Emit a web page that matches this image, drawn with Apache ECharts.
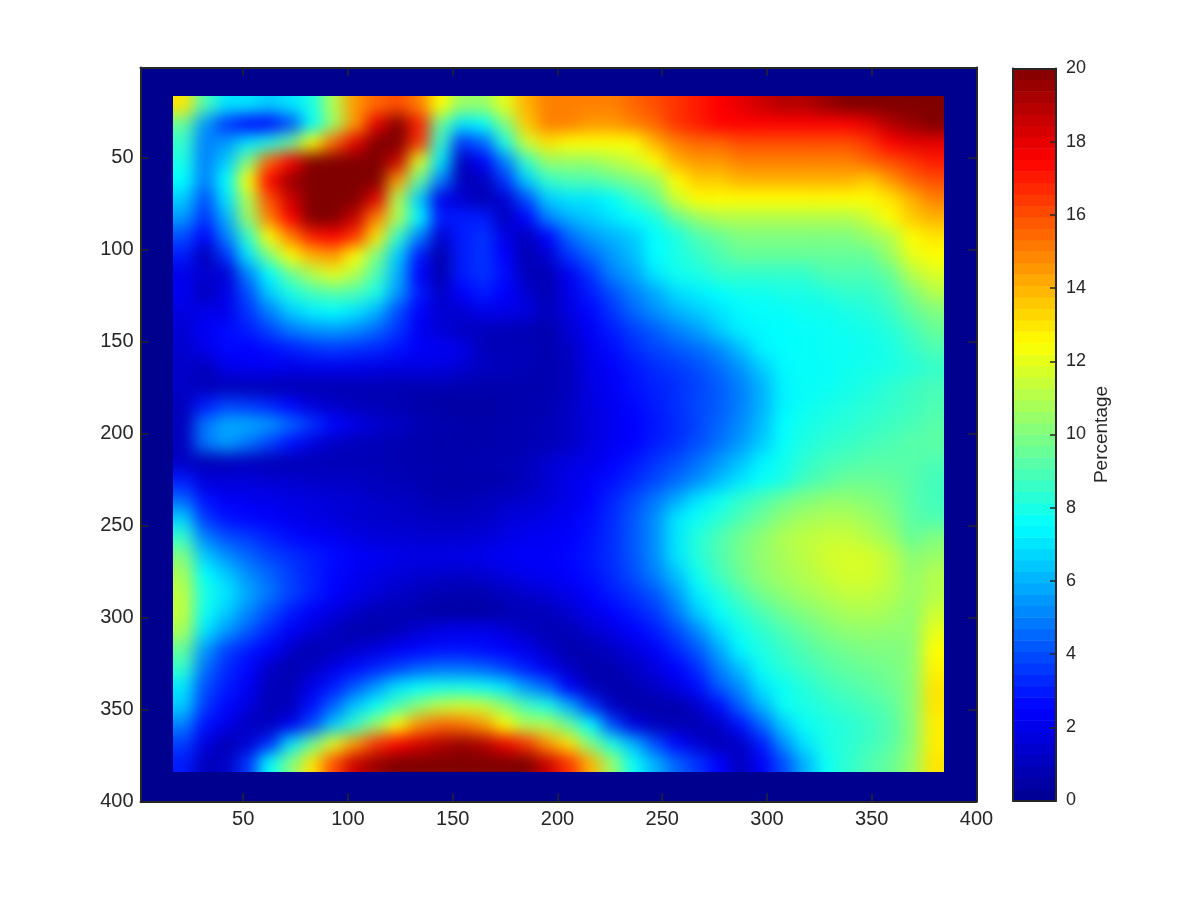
<!DOCTYPE html>
<html>
<head>
<meta charset="utf-8">
<style>
html,body{margin:0;padding:0;background:#fff}
#chart{width:1200px;height:900px}
/* Smooth the measured cells on the main heatmap's own layer, and clip that layer to the data square. */
canvas[data-zr-dom-id="zr_1"]{filter:blur(8px);clip-path:inset(96px 256px 128px 173px)}
</style>
<script src="https://cdn.jsdelivr.net/npm/echarts@6/dist/echarts.min.js"></script>
</head>
<body>
<div id="chart"></div>
<script>
const xCells = [20,30,40,50,60,70,80,90,100,110,120,130,140,150,160,170,180,190,200,210,220,230,240,250,260,270,280,290,300,310,320,330,340,350,360,370];
const yCells = [20,30,40,50,60,70,80,90,100,110,120,130,140,150,160,170,180,190,200,210,220,230,240,250,260,270,280,290,300,310,320,330,340,350,360,370];
const axisTicks = [50,100,150,200,250,300,350,400];
const colorbarTicks = [0,2,4,6,8,10,12,14,16,18,20];
const colorbarLevels = [0.16,0.47,0.78,1.09,1.41,1.72,2.03,2.34,2.66,2.97,3.28,3.59,3.91,4.22,4.53,4.84,5.16,5.47,5.78,6.09,6.41,6.72,7.03,7.34,7.66,7.97,8.28,8.59,8.91,9.22,9.53,9.84,10.16,10.47,10.78,11.09,11.41,11.72,12.03,12.34,12.66,12.97,13.28,13.59,13.91,14.22,14.53,14.84,15.16,15.47,15.78,16.09,16.41,16.72,17.03,17.34,17.66,17.97,18.28,18.59,18.91,19.22,19.53,19.84];
const jetStops = ['#00008f','#0000ff','#0080ff','#00ffff','#80ff80','#ffff00','#ff8000','#ff0000','#800000'];
const percentage = [
[13,9,7,7,6.5,7,8,11,14.5,15.5,16,15,12.5,10.5,10.5,12,14,15,15,15,15,15.5,16,16.5,17,17.5,18,18.5,19,19,19.5,20,20,20,20,20],
[9.5,5.5,3.5,2.5,2.5,4,7.5,10.5,14.5,18,20,17,9.5,7,7.5,10,13.5,15,15,14.5,14.5,15,15.5,16.5,17,17.5,17.5,17.5,17.5,17.5,17.5,17.5,18,19,19.5,20],
[8.5,5,5.5,7,8,9.5,12.5,15.5,18,20,20,16.5,8.5,3.5,4.5,8,11.5,13,12.5,12.5,12.5,12.5,14,15,15.5,15.5,16,16,16,16,16,16,16.5,17.5,18,18],
[8,5,6.5,10,15.5,17.5,20,20,20,20,18.5,12,7,1,2.5,5,8.5,10.5,10.5,10.5,11,11.5,12.5,14,14.5,14.5,15,15,15,15,15,15,15.5,16,16.5,17],
[7.5,5,7.5,12.5,17.5,19.5,20,20,20,20,14.5,9.5,5,1,1,3.5,6.5,8.5,9,9,9.5,10,10.5,12.5,13.5,13.5,14,14,14,14,14,14,13.5,14.5,15.5,16],
[6.5,4,7,11,16,18.5,20,20,20,18,11,6.5,2,1.5,0.8,1.5,4,6.5,7,7,7.5,8.5,9.5,11.5,12.5,12.5,12.5,12.5,12.5,12.5,12.5,12.5,12.5,13,14,15],
[5.5,3.5,6,10.5,15,17.5,20,20,18.5,15,11,7.5,3,3,3,1,2.5,5,6,6.5,7,7.5,8,9.5,10.5,11,11,11,11,11,11,11,11.5,12.5,13.5,14],
[4,2.5,5,8.5,12.5,15,17,17.5,16.5,13,8.5,5,1.5,3,3.5,2,1,2.5,4.5,5.5,6,6.5,7.5,8,9,9.5,10,10,10,10,10,10,10.5,11,12.5,13],
[3,0.8,3.5,7,10,12.5,14,14.5,12.5,10,6.5,3,0.6,3,3.5,2.5,0.8,1.5,3.5,4.5,5.5,6.2,7.5,8,8.5,9,9.5,9.5,9.5,9.5,9.5,9.5,9.5,10.5,12,12.5],
[2,1.5,1.5,5,7.5,9.5,11,12,11,9,6,2.5,0.7,3,3.5,2.7,1,0.8,2.2,3.5,5,5.7,7,7.8,8,8.5,8.5,8.5,8.5,8.5,9,9,9,9.5,11,11.8],
[2.2,1,2,4,6.5,8,8.8,9.2,9,8,5.5,3,1.2,2.5,3,2.5,1.5,0.8,2,3,4,5,5.8,6.8,7.2,7.5,7.8,7.8,8,8,8.2,8.5,8.5,9,10,11],
[1.8,2,2,3.5,5,6.5,7.2,7.5,7,6,4,2.5,1.5,1.5,2,2,1.8,1,1.8,2.6,3.5,4.5,5.3,6,6.5,7,7.4,7.6,7.6,7.8,7.8,8,8.2,8.6,9.4,10],
[1.5,2.3,2.7,3,3.8,4.8,5.3,5.5,5.2,4.5,3.5,2.2,1.6,1.2,1,0.9,0.8,0.7,1.5,2.3,3,3.7,4.3,5,5.6,6.5,7.2,7.4,7.5,7.6,7.7,7.8,7.9,8.2,8.8,9.5],
[1.4,2,2.6,2.5,2.7,3,3.4,3.6,3.4,3.2,2.8,2.4,2.2,2,1,0.9,1,0.7,1.2,2.1,2.7,3.3,3.8,4.2,4.6,5.2,6.2,7.3,7.5,7.6,7.7,7.7,7.8,8,8.5,9],
[1.3,1,2,2.2,2.2,2,2,2.1,2,1.9,1.8,1.8,1.8,1.5,1.1,1,0.9,0.7,1,2,2.4,2.9,3.3,3.6,4,4.6,5.4,6.5,7.4,7.6,7.6,7.8,7.9,8,8.2,8.5],
[1.3,0.9,0.9,0.8,0.8,0.8,0.8,0.8,0.8,0.8,0.8,0.8,0.8,0.7,0.7,0.7,0.7,0.7,1,1.8,2.3,2.8,3.1,3.4,3.8,4.3,5,6,7.3,7.6,7.7,7.9,8.1,8.4,8.7,8.9],
[1,3,3.8,3.6,3.2,2.6,1.7,1.3,1,0.9,0.8,0.6,0.5,0.5,0.5,0.6,0.7,0.8,1.2,1.8,2.2,2.6,3,3.4,3.9,4.3,5,6,7.3,7.7,7.9,8.1,8.3,8.5,8.7,9],
[1,4.8,5.8,5.8,5.5,4.5,3.5,2.6,2,1.5,1.2,0.9,0.7,0.6,0.6,0.7,0.8,0.9,1.2,1.7,2.2,2.5,2.9,3.3,3.8,4.5,5.2,6.2,7.5,7.9,8.1,8.3,8.5,8.7,8.9,9.2],
[1,4.8,5.6,4.8,3.8,2.8,1.8,1.2,1,0.9,0.8,0.7,0.6,0.6,0.6,0.7,0.8,0.9,1.2,1.8,2.2,2.5,3,3.4,4,4.7,5.5,6.5,7.6,8.1,8.4,8.6,8.8,9,9.2,9.3],
[1.2,0.8,1,1,0.9,0.9,0.9,0.9,0.9,0.9,0.8,0.7,0.7,0.7,0.8,0.9,1,1.5,1.8,2,2.5,2.9,3.5,4,4.7,5.5,6.3,7.3,7.8,8.4,8.8,9,9.2,9.2,9.2,9],
[3,1.7,1.6,1.6,1.5,1.4,1.3,1.2,1.2,1,0.9,0.8,0.6,0.6,0.6,0.7,1,1.5,2,2.3,2.8,3.3,3.9,4.6,5.3,6.2,7,7.6,8,8.8,9.2,9.6,9.6,9.5,9.2,8.8],
[4.5,2.8,2.3,2.2,2.1,1.9,1.8,1.6,1.5,1.3,1.2,1,0.8,0.8,1,1.2,1.4,1.6,2,2.5,3.2,3.9,4.8,5.8,7,7.7,8.4,9,9.6,10,10.3,10.3,10.1,9.8,9.2,8.8],
[6.5,3.6,2.8,2.6,2.4,2.1,1.9,1.7,1.5,1.4,1.3,1.2,1.1,1.1,1.2,1.6,1.8,2,2.3,2.7,3.3,4.2,5.3,7,7.7,8.3,9,9.6,10.3,10.7,10.9,10.9,10.6,10.1,9.3,9],
[8.5,5,4,3.6,3.1,2.7,2.4,2.2,1.9,1.7,1.6,1.5,1.5,1.5,1.6,1.9,2.2,2.3,2.5,2.8,3.4,4.2,5.3,7,8.2,9,9.7,10.3,10.9,11.2,11.4,11.4,11,10.5,9.5,10],
[10,6.5,5.3,4.5,3.8,3.4,3,2.7,2.4,2.2,2,1.9,1.9,2,2.1,2.3,2.4,2.4,2.6,2.9,3.4,4.2,5.3,7,8.2,9,9.8,10.4,10.8,11.2,11.6,11.8,11.7,11.2,10.2,10.5],
[10.8,7.5,6.5,5.3,4.5,3.7,3.1,2.6,2.2,1.9,1.7,1.5,1.4,1.3,1.5,1.8,2.1,2.3,2.5,2.8,3.3,4,5,6.3,7.8,8.8,9.6,10.3,10.7,11,11.4,11.7,11.7,11.2,10.4,11],
[11.2,8,7,5.8,4.8,3.8,3.1,2.5,2,1.6,1.3,1,0.8,0.7,0.8,1.1,1.4,1.6,2,2.5,3,3.5,4.2,5.5,7.2,8.1,9,9.8,10.3,10.7,11,11.3,11.3,11,10.5,11],
[11.3,7.7,6.5,5.2,4,3,2.3,1.8,1.3,0.9,0.8,0.7,0.5,0.5,0.5,0.7,0.9,1,1.5,2,2.5,3,3.6,4.8,6.5,7.6,8.3,9,9.7,10.1,10.5,10.8,10.9,10.7,10.3,11.5],
[10.8,7,5.5,4.3,3.2,2.3,1.7,1.1,0.7,0.7,1,1.5,1.9,2.1,2,1.7,1.2,0.8,0.9,1.4,1.9,2.5,3,3.9,5.2,6.8,7.8,8.4,9,9.5,10,10.3,10.4,10.3,10.3,12],
[9.5,5.5,3.8,3,2.4,1.3,0.7,1,1.4,1.8,2.3,2.6,2.8,2.8,2.7,2.5,2,1.3,0.7,0.8,1.2,1.7,2.3,3.2,4.2,5.8,7.4,8.1,8.6,9.1,9.5,9.8,10,10,10.2,12.5],
[8.5,4.7,3.3,2.6,1.3,0.7,1.2,2,2.7,3.2,3.8,4.4,4.7,4.7,4.4,3.8,3,2.2,1.2,0.6,0.8,1.2,1.8,2.5,3.4,5,6.3,7.7,8.3,8.7,9.1,9.4,9.6,9.8,10.2,12.7],
[7,4,3,2.2,1,0.9,2,3,4.3,5.6,7,7.6,7.9,7.9,7.7,7,5.5,4.5,2.5,1,0.6,0.8,1.2,1.8,2.7,4.2,5.3,7,7.7,8.2,8.7,9,9.3,9.6,10.2,13],
[6.5,3.6,2.6,1.8,0.9,1,2.8,4.5,6.4,7.7,9,10.3,11.3,11.7,11.4,10.2,8.8,8,6,3.5,1.2,0.6,0.7,0.7,1.3,2.7,4.4,6,7.7,8,8.3,8.6,8.9,9.3,10.2,13],
[5,2.8,2,1.1,1,2.2,4,6.5,8.5,10.5,12.5,14.7,15.5,15.3,14.5,12.5,11,11,9.5,7.5,4,1.8,1,0.8,0.8,1.3,2.8,4.5,6.5,7.7,8,8.3,8.6,9.1,10.2,12.8],
[3.7,1.8,0.8,1.5,3.3,7,9.5,12,14.5,16.5,17.5,18.3,19,19.5,19,17.8,16.5,14.5,13,10,8,6,4,2.6,1.5,0.8,1.2,3,5.3,7,8,8.3,8.7,9.2,10.2,12.8],
[3,1,1.2,3.5,7.5,10,13,16,18.5,19.5,20,20,20,20,20,20,20,18.5,16.5,14,10.5,7.7,6,4.5,3.5,2.5,1,2.3,4,6,7.7,8.4,9,9.5,10.5,13]
];

// One extra band on every side repeats the edge cells, so the smoothing has no transparent edge; the clip hides it.
const heatData = [];
const last = xCells.length - 1, lastY = yCells.length - 1;
for (let j = -1; j <= lastY + 1; j++) for (let i = -1; i <= last + 1; i++) {
  const r = percentage[Math.min(lastY, Math.max(0, j))];
  heatData.push([i + 1, j + 1, r[Math.min(last, Math.max(0, i))]]);
}
const barData = colorbarLevels.map((v, j) => [0, j, v]);
const bandX = ['a', ...xCells, 'b'];
const bandY = ['a', ...yCells, 'b'];

const ink = '#262626';
const font = 'Liberation Sans, Helvetica, Arial, sans-serif';
const line = {show: true, onZero: false, lineStyle: {color: ink, width: 2}};
const tick = (vals, len) => ({show: true, inside: true, length: len, customValues: vals, lineStyle: {color: ink, width: 1.5}});
const frameRect = {left: 140.5, top: 67.5, width: 836, height: 734};
const barRect = {left: 1013, top: 68.5, width: 43, height: 732};
const cellW = 771 / 36, cellH = 676 / 36;

const option = {
  animation: false,
  backgroundColor: '#ffffff',
  visualMap: {show: false, type: 'continuous', min: 0, max: 20, dimension: 2, seriesIndex: [0, 1], inRange: {color: jetStops}},
  grid: [
    {left: 173 - cellW, top: 96 - cellH, width: 771 + 2 * cellW, height: 676 + 2 * cellH},
    Object.assign({show: true, backgroundColor: '#00008f', borderWidth: 0}, frameRect),
    barRect,
    barRect
  ],
  xAxis: [
    {type: 'category', gridIndex: 0, data: bandX, show: false},
    {type: 'value', gridIndex: 1, position: 'bottom', min: 1, max: 400, z: 5, axisLine: line, splitLine: {show: false}, axisTick: tick(axisTicks, 8),
     axisLabel: {customValues: axisTicks, color: ink, fontFamily: font, fontSize: 20, margin: 8}},
    {type: 'value', gridIndex: 1, position: 'top', min: 1, max: 400, z: 5, axisLine: line, splitLine: {show: false}, axisTick: tick(axisTicks, 8), axisLabel: {show: false}},
    {type: 'category', gridIndex: 2, data: ['c'], show: false},
    {type: 'value', gridIndex: 3, position: 'bottom', min: 0, max: 1, z: 5, axisLine: line, splitLine: {show: false}, axisTick: {show: false}, axisLabel: {show: false}},
    {type: 'value', gridIndex: 3, position: 'top', min: 0, max: 1, z: 5, axisLine: line, splitLine: {show: false}, axisTick: {show: false}, axisLabel: {show: false}}
  ],
  yAxis: [
    {type: 'category', gridIndex: 0, data: bandY, inverse: true, show: false},
    {type: 'value', gridIndex: 1, position: 'left', inverse: true, min: 1, max: 400, z: 5, axisLine: line, splitLine: {show: false}, axisTick: tick(axisTicks, 8),
     axisLabel: {customValues: axisTicks, color: ink, fontFamily: font, fontSize: 20, margin: 7}},
    {type: 'value', gridIndex: 1, position: 'right', inverse: true, min: 1, max: 400, z: 5, axisLine: line, splitLine: {show: false}, axisTick: tick(axisTicks, 8), axisLabel: {show: false}},
    {type: 'category', gridIndex: 2, data: colorbarLevels, show: false},
    {type: 'value', gridIndex: 3, position: 'right', min: 0, max: 20, z: 5, axisLine: line, splitLine: {show: false}, axisTick: tick(colorbarTicks, 6),
     axisLabel: {customValues: colorbarTicks, color: ink, fontFamily: font, fontSize: 18, margin: 10},
     name: 'Percentage', nameLocation: 'middle', nameRotate: 90, nameGap: 36, nameTextStyle: {color: ink, fontFamily: font, fontSize: 19}},
    {type: 'value', gridIndex: 3, position: 'left', min: 0, max: 20, z: 5, axisLine: line, splitLine: {show: false}, axisTick: {show: false}, axisLabel: {show: false}}
  ],
  series: [
    {type: 'heatmap', zlevel: 1, xAxisIndex: 0, yAxisIndex: 0, data: heatData, progressive: 0, emphasis: {disabled: true}},
    {type: 'heatmap', xAxisIndex: 3, yAxisIndex: 3, data: barData, progressive: 0, emphasis: {disabled: true}}
  ]
};
echarts.init(document.getElementById('chart'), null, {renderer: 'canvas'}).setOption(option);
</script>
</body>
</html>
